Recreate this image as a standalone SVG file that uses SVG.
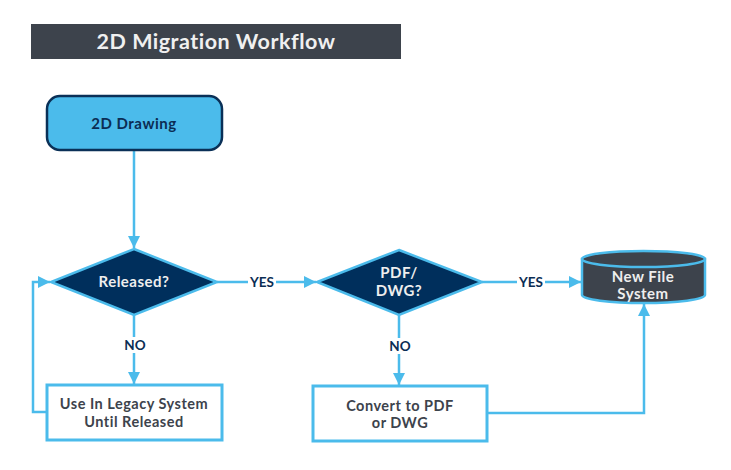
<svg xmlns="http://www.w3.org/2000/svg" width="731" height="470" viewBox="0 0 731 470">
<defs>
<marker id="ah" markerUnits="userSpaceOnUse" markerWidth="14" markerHeight="14" viewBox="0 0 14 14" refX="13" refY="7" orient="auto">
<path d="M1,1 L13,7 L1,13 Z" fill="#4bbbeb"/>
</marker>
<style>
.t{font-family:Lato,"Open Sans","Liberation Sans",sans-serif;font-weight:bold;text-anchor:middle;letter-spacing:0.5px;}
.ln{fill:none;stroke:#4bbbeb;stroke-width:2.5;}
.lbl{font-family:Lato,"Open Sans","Liberation Sans",sans-serif;font-weight:bold;font-size:13.5px;fill:#0b2d54;text-anchor:middle;}
.box{fill:#ffffff;stroke:#4bbbeb;stroke-width:3;}
.dia{fill:#002f5c;stroke:#4bbbeb;stroke-width:2.5;}
</style>
</defs>
<rect width="731" height="470" fill="#ffffff"/>
<g id="title">
<rect x="31" y="24" width="370" height="35" fill="#3d434c"/>
<text x="216" y="49" class="t" font-size="21.5" fill="#f0f0f0">2D Migration Workflow</text>
</g>
<g id="connectors">
<line class="ln" x1="134" y1="150" x2="134" y2="248" marker-end="url(#ah)"/>
<line class="ln" x1="217" y1="282" x2="316" y2="282" marker-end="url(#ah)"/>
<line class="ln" x1="482" y1="282" x2="581" y2="282" marker-end="url(#ah)"/>
<line class="ln" x1="134" y1="315" x2="134" y2="384" marker-end="url(#ah)"/>
<line class="ln" x1="399" y1="315" x2="399" y2="385" marker-end="url(#ah)"/>
<polyline class="ln" points="47,412 33,412 33,282 50,282" marker-end="url(#ah)"/>
<polyline class="ln" points="487,413 644,413 644,304" marker-end="url(#ah)"/>
<rect x="248" y="274" width="28" height="16" fill="#ffffff"/>
<text class="lbl" x="262" y="287">YES</text>
<rect x="517" y="274" width="28" height="16" fill="#ffffff"/>
<text class="lbl" x="531" y="287">YES</text>
<rect x="123" y="337" width="24" height="16" fill="#ffffff"/>
<text class="lbl" x="135" y="350">NO</text>
<rect x="388" y="338" width="24" height="16" fill="#ffffff"/>
<text class="lbl" x="400" y="351">NO</text>
</g>
<g id="drawing">
<rect x="47" y="96" width="175" height="54" rx="13" fill="#4bbbeb" stroke="#0a3057" stroke-width="2.5"/>
<text x="134" y="129" class="t" font-size="15" fill="#0b2d54">2D Drawing</text>
</g>
<g id="released">
<polygon class="dia" points="134,249 217,282 134,315 51,282"/>
<text x="134" y="287" class="t" font-size="15" fill="#eeeeee">Released?</text>
</g>
<g id="pdfdwg">
<polygon class="dia" points="399,250 482,282 399,315 317,282"/>
<text x="399" y="278" class="t" font-size="15" fill="#eeeeee">PDF/</text>
<text x="399" y="296" class="t" font-size="15" fill="#eeeeee">DWG?</text>
</g>
<g id="newfs">
<path d="M582,259 L582,295 A61.5,8 0 0 0 705,295 L705,259 Z" fill="#3d434c" stroke="#4bbbeb" stroke-width="2.5"/>
<ellipse cx="643.5" cy="259" rx="61.5" ry="8" fill="#3d434c" stroke="#4bbbeb" stroke-width="2.5"/>
<text x="643" y="282" class="t" font-size="15" fill="#eeeeee">New File</text>
<text x="643" y="299" class="t" font-size="15" fill="#eeeeee">System</text>
</g>
<g id="legacy">
<rect class="box" x="47" y="385" width="175" height="55"/>
<text x="134" y="409" class="t" font-size="14.5" fill="#3d434c" letter-spacing="0.7">Use In Legacy System</text>
<text x="134" y="426.5" class="t" font-size="14.5" fill="#3d434c" letter-spacing="0.7">Until Released</text>
</g>
<g id="convert">
<rect class="box" x="313" y="386" width="174" height="55"/>
<text x="400" y="410.5" class="t" font-size="14.5" fill="#3d434c" letter-spacing="0.7">Convert to PDF</text>
<text x="400" y="428" class="t" font-size="14.5" fill="#3d434c" letter-spacing="0.7">or DWG</text>
</g>
</svg>
